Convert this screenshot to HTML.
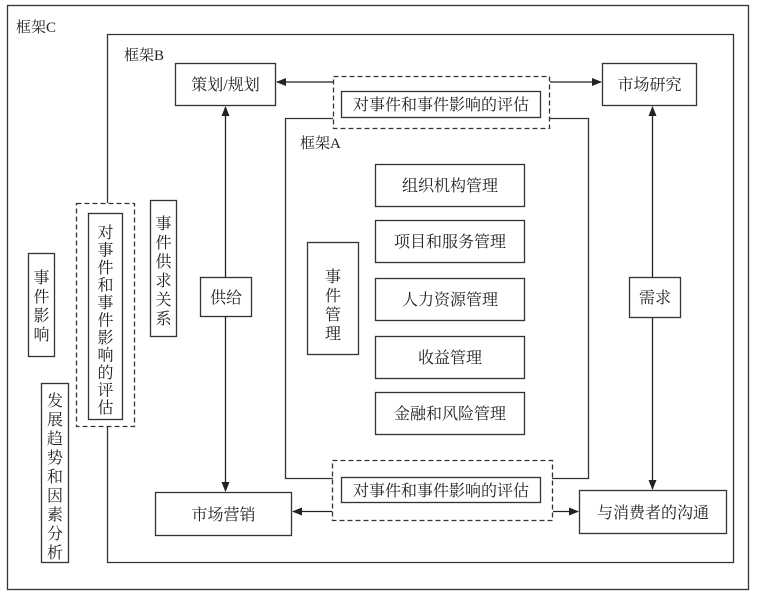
<!DOCTYPE html>
<html><head><meta charset="utf-8"><style>
html,body{margin:0;padding:0;background:#fff;}
svg{display:block;}
text{font-family:"Liberation Serif","Noto Serif CJK SC","Noto Sans CJK SC",serif;fill:#222;}
</style></head><body>
<svg width="759" height="595" viewBox="0 0 759 595" xmlns="http://www.w3.org/2000/svg">
<defs>
<marker id="ah" markerWidth="10" markerHeight="8" refX="9" refY="4" orient="auto" markerUnits="userSpaceOnUse">
<path d="M0,0 L10,4 L0,8 Z" fill="#222"/>
</marker>
</defs>
<g fill="none" stroke="#333" stroke-width="1.3">
<!-- Frame C -->
<rect x="7.5" y="5.5" width="741" height="584"/>
<!-- Frame B -->
<polyline points="107.5,203 107.5,34.5 733.5,34.5 733.5,562.5 107.5,562.5 107.5,426"/>
<!-- Frame A -->
<polyline points="333,118.5 285.5,118.5 285.5,478.5 333,478.5"/>
<polyline points="549,118.5 588.5,118.5 588.5,478.5 552,478.5"/>
<!-- boxes -->
<rect x="175.5" y="63.5" width="100" height="42"/>
<rect x="602.5" y="63.5" width="94" height="42"/>
<rect x="341.5" y="91.5" width="199" height="26"/>
<rect x="341.5" y="477.5" width="199" height="25"/>
<rect x="375.5" y="164.5" width="149" height="42"/>
<rect x="375.5" y="220.5" width="149" height="42"/>
<rect x="375.5" y="278.5" width="149" height="42"/>
<rect x="375.5" y="336.5" width="149" height="42"/>
<rect x="375.5" y="392.5" width="149" height="42"/>
<rect x="307.5" y="242.5" width="51" height="112"/>
<rect x="629.5" y="277.5" width="51" height="40"/>
<rect x="200.5" y="277.5" width="51" height="39"/>
<rect x="155.5" y="492.5" width="136" height="43"/>
<rect x="579.5" y="490.5" width="147" height="43"/>
<rect x="88.5" y="213.5" width="34" height="206"/>
<rect x="150.5" y="200.5" width="26" height="136"/>
<rect x="28.5" y="253.5" width="26" height="103"/>
<rect x="41.5" y="383.5" width="27" height="179"/>
</g>
<g fill="none" stroke="#333" stroke-width="1.3" stroke-dasharray="5,3">
<rect x="333.5" y="76.5" width="216" height="52"/>
<rect x="332.5" y="460.5" width="220" height="60"/>
<rect x="76.5" y="203.5" width="58" height="223"/>
</g>
<g stroke="#222" stroke-width="1.3" fill="none" marker-end="url(#ah)">
<line x1="333" y1="82" x2="277" y2="82"/>
<line x1="550" y1="82" x2="601" y2="82"/>
<line x1="225.5" y1="277" x2="225.5" y2="107"/>
<line x1="225.5" y1="317" x2="225.5" y2="491"/>
<line x1="652.5" y1="277" x2="652.5" y2="107"/>
<line x1="652.5" y1="318" x2="652.5" y2="489"/>
<line x1="332" y1="511.5" x2="293" y2="511.5"/>
<line x1="553" y1="511.5" x2="578" y2="511.5"/>
</g>
<g font-size="15">
<text x="16" y="32">框架C</text>
<text x="124" y="60">框架B</text>
<text x="300" y="148">框架A</text>
</g>
<g font-size="16" text-anchor="middle">
<text x="225.5" y="90">策划/规划</text>
<text x="649.5" y="90">市场研究</text>
<text x="441" y="110">对事件和事件影响的评估</text>
<text x="441" y="496">对事件和事件影响的评估</text>
<text x="450" y="191">组织机构管理</text>
<text x="450" y="247">项目和服务管理</text>
<text x="450" y="305">人力资源管理</text>
<text x="450" y="363">收益管理</text>
<text x="450" y="419">金融和风险管理</text>
<text x="655" y="303">需求</text>
<text x="226" y="303">供给</text>
<text x="223.5" y="520">市场营销</text>
<text x="653" y="518">与消费者的沟通</text>
<text x="333"><tspan x="333" y="282">事</tspan><tspan x="333" y="301">件</tspan><tspan x="333" y="320">管</tspan><tspan x="333" y="339">理</tspan></text>
<text><tspan x="105.5" y="238">对</tspan><tspan x="105.5" y="255.5">事</tspan><tspan x="105.5" y="273">件</tspan><tspan x="105.5" y="290.5">和</tspan><tspan x="105.5" y="308">事</tspan><tspan x="105.5" y="325.5">件</tspan><tspan x="105.5" y="343">影</tspan><tspan x="105.5" y="360.5">响</tspan><tspan x="105.5" y="378">的</tspan><tspan x="105.5" y="395.5">评</tspan><tspan x="105.5" y="413">估</tspan></text>
<text><tspan x="163.5" y="229">事</tspan><tspan x="163.5" y="248">件</tspan><tspan x="163.5" y="267">供</tspan><tspan x="163.5" y="286">求</tspan><tspan x="163.5" y="305">关</tspan><tspan x="163.5" y="324">系</tspan></text>
<text><tspan x="41.5" y="283">事</tspan><tspan x="41.5" y="302">件</tspan><tspan x="41.5" y="321">影</tspan><tspan x="41.5" y="340">响</tspan></text>
<text><tspan x="55" y="406">发</tspan><tspan x="55" y="425">展</tspan><tspan x="55" y="444">趋</tspan><tspan x="55" y="463">势</tspan><tspan x="55" y="482">和</tspan><tspan x="55" y="501">因</tspan><tspan x="55" y="520">素</tspan><tspan x="55" y="539">分</tspan><tspan x="55" y="558">析</tspan></text>
</g>
</svg>
</body></html>
